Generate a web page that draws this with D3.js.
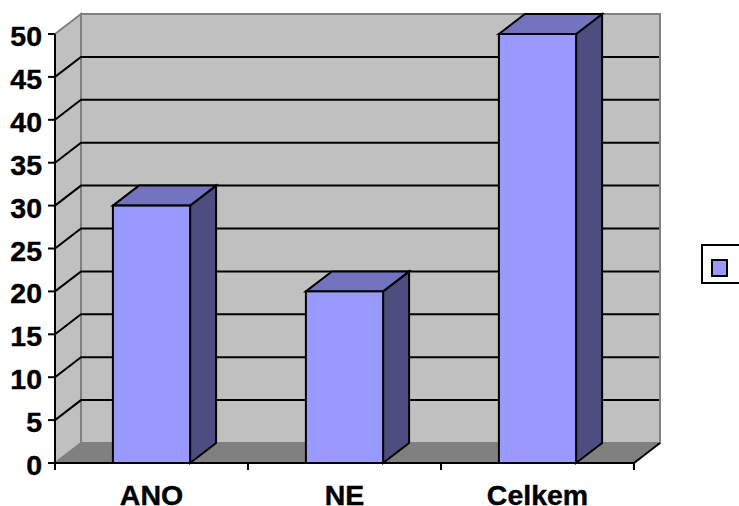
<!DOCTYPE html>
<html>
<head>
<meta charset="utf-8">
<script src="https://cdnjs.cloudflare.com/ajax/libs/d3/7.8.5/d3.min.js"></script>
<style>
html,body{margin:0;padding:0;background:#fff;overflow:hidden}
text{font-family:"Liberation Sans",Arial,sans-serif;font-weight:bold;fill:#000;stroke:#000;stroke-width:0.4px}
</style>
</head>
<body>
<svg id="chart" width="739" height="506"></svg>
<script>
// Survey answers shown as 3D-style columns
const categories = ["ANO", "NE", "Celkem"];
const values = [30, 20, 50];
const yTicks = [0, 5, 10, 15, 20, 25, 30, 35, 40, 45, 50];

const svg = d3.select("#chart");
const depthX = 26, depthY = 20;

const x = d3.scaleBand().domain(categories).range([55, 634]).paddingInner(0.6).paddingOuter(0.3);
const xEdges = d3.scaleLinear().domain([0, categories.length]).range([55, 634]);
const y = d3.scaleLinear().domain([0, 50]).range([463, 34]);

const left = xEdges.range()[0], right = xEdges.range()[1];
const pts = a => a.map(p => p.join(",")).join(" ");

// Back wall, side wall and floor
svg.append("polygon")
  .attr("points", pts([[left + depthX, y(50) - depthY], [right + depthX, y(50) - depthY], [right + depthX, y(0) - depthY], [left + depthX, y(0) - depthY]]))
  .attr("fill", "#c0c0c0").attr("stroke", "#808080").attr("stroke-width", 2);
svg.append("polygon")
  .attr("points", pts([[left, y(50)], [left + depthX, y(50) - depthY], [left + depthX, y(0) - depthY], [left, y(0)]]))
  .attr("fill", "#c0c0c0").attr("stroke", "#808080").attr("stroke-width", 2);
svg.append("polygon")
  .attr("points", pts([[left, y(0)], [left + depthX, y(0) - depthY], [right + depthX, y(0) - depthY], [right, y(0)]]))
  .attr("fill", "#808080").attr("stroke", "#808080").attr("stroke-width", 1);

// Gridlines run along the side wall and across the back wall
const gridTicks = yTicks.filter(t => t > 0 && t < 50);
svg.append("g").selectAll("polyline").data(gridTicks).join("polyline")
  .attr("points", d => pts([[left, y(d)], [left + depthX, y(d) - depthY], [right + depthX - 1, y(d) - depthY]]))
  .attr("fill", "none").attr("stroke", "#000").attr("stroke-width", 2);

// Front floor edge diagonal at the right
svg.append("line")
  .attr("x1", right).attr("y1", y(0)).attr("x2", right + depthX).attr("y2", y(0) - depthY)
  .attr("stroke", "#000").attr("stroke-width", 2);

// Columns: front, top and side faces
const bars = svg.append("g").selectAll("g").data(categories).join("g");
const bx = d => x(d), bw = x.bandwidth();
const val = (d, i) => values[i];
bars.append("polygon")
  .attr("points", (d, i) => pts([[bx(d) + bw, y(val(d, i))], [bx(d) + bw + depthX, y(val(d, i)) - depthY], [bx(d) + bw + depthX, y(0) - depthY], [bx(d) + bw, y(0)]]))
  .attr("fill", "#4d4d80");
bars.append("polygon")
  .attr("points", (d, i) => pts([[bx(d), y(val(d, i))], [bx(d) + depthX, y(val(d, i)) - depthY], [bx(d) + bw + depthX, y(val(d, i)) - depthY], [bx(d) + bw, y(val(d, i))]]))
  .attr("fill", "#7373bf");
bars.append("rect")
  .attr("x", bx).attr("y", (d, i) => y(val(d, i)))
  .attr("width", bw).attr("height", (d, i) => y(0) - y(val(d, i)))
  .attr("fill", "#9999ff");
bars.selectAll("polygon,rect")
  .attr("stroke", "#000").attr("stroke-width", 2).attr("stroke-linejoin", "miter");

// Value axis
const yAxis = svg.append("g");
yAxis.append("line").attr("x1", left).attr("x2", left).attr("y1", y(50)).attr("y2", y(0))
  .attr("stroke", "#000").attr("stroke-width", 2);
const yTick = yAxis.selectAll("g").data(yTicks).join("g")
  .attr("transform", d => `translate(0,${y(d)})`);
yTick.append("line").attr("x1", left - 7).attr("x2", left).attr("stroke", "#000").attr("stroke-width", 2);
yTick.append("text").attr("x", 42).attr("y", 12).attr("text-anchor", "end")
  .attr("font-size", 28.5).text(d => d);

// Category axis
const xAxis = svg.append("g");
xAxis.append("line").attr("x1", left - 1).attr("x2", right + 1).attr("y1", y(0)).attr("y2", y(0))
  .attr("stroke", "#000").attr("stroke-width", 2);
xAxis.selectAll("line.tick").data(d3.range(categories.length + 1)).join("line")
  .attr("class", "tick")
  .attr("x1", d => xEdges(d)).attr("x2", d => xEdges(d))
  .attr("y1", y(0)).attr("y2", y(0) + 7)
  .attr("stroke", "#000").attr("stroke-width", 2);
xAxis.selectAll("text").data(categories).join("text")
  .attr("x", d => x(d) + bw / 2).attr("y", 505).attr("text-anchor", "middle")
  .attr("font-size", 28.5).text(d => d);

// Legend box with a single swatch
svg.append("rect").attr("x", 702).attr("y", 245).attr("width", 50).attr("height", 38)
  .attr("fill", "#fff").attr("stroke", "#000").attr("stroke-width", 2);
svg.append("rect").attr("x", 712).attr("y", 260).attr("width", 15).attr("height", 16)
  .attr("fill", "#9999ff").attr("stroke", "#000").attr("stroke-width", 2);
</script>
</body>
</html>
